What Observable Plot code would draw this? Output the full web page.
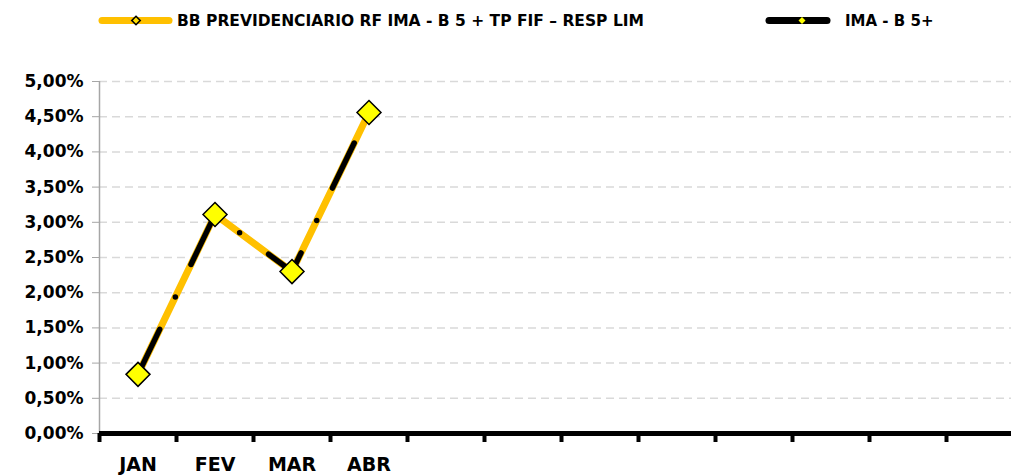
<!DOCTYPE html>
<html>
<head>
<meta charset="utf-8">
<script src="https://cdn.jsdelivr.net/npm/d3@7"></script>
<script src="https://cdn.jsdelivr.net/npm/@observablehq/plot@0.6"></script>
<style>
html, body { margin: 0; padding: 0; background: #fff; overflow: hidden; }
#wrap { position: relative; width: 1011px; height: 476px; overflow: hidden; background: #fff;
        font-family: "DejaVu Sans", sans-serif; font-weight: bold; }
#legend { position: absolute; left: 0; top: 0; }
#chart { position: absolute; left: 0; top: 40px; width: 1023px; }
#chart svg { max-width: none !important; }
</style>
</head>
<body>
<div id="wrap">
  <svg id="legend" width="1011" height="40">
    <line x1="102" y1="20.5" x2="169" y2="20.5" stroke="#FFC000" stroke-width="7" stroke-linecap="round"/>
    <path d="M136,16.3L140.2,20.5L136,24.7L131.8,20.5Z" fill="#FFE000" stroke="#000" stroke-width="1.6"/>
    <text id="lg1" x="177" y="26" font-family="DejaVu Sans" font-weight="bold" font-size="15.5" fill="#000"></text>
    <line x1="769" y1="20.5" x2="827" y2="20.5" stroke="#000" stroke-width="7" stroke-linecap="round"/>
    <path d="M802,17L805.5,20.5L802,24L798.5,20.5Z" fill="#FFFF00"/>
    <text id="lg2" x="845" y="26" font-family="DejaVu Sans" font-weight="bold" font-size="15" fill="#000"></text>
  </svg>
  <div id="chart"></div>
</div>
<script>
// ---- data ----
const monthLabels = ["JAN", "FEV", "MAR", "ABR", "", "", "", "", "", "", "", ""];
const seriesNames = ["BB PREVIDENCIARIO RF IMA - B 5 + TP FIF \u2013 RESP LIM", "IMA - B 5+"];
const fundValues = [0.84, 3.11, 2.30, 4.56];   // % per month
const benchValues = [0.84, 3.11, 2.30, 4.56];  // % per month
const yTicks = [0, 0.5, 1, 1.5, 2, 2.5, 3, 3.5, 4, 4.5, 5];

document.getElementById("lg1").textContent = seriesNames[0];
document.getElementById("lg2").textContent = seriesNames[1];

const fund = fundValues.map((v, i) => ({month: i + 0.5, value: v}));
const bench = benchValues.map((v, i) => ({month: i + 0.5, value: v}));
const pct = d => d.toFixed(2).replace(".", ",") + "%";

const chart = Plot.plot({
  width: 1023,
  height: 436,
  marginLeft: 99,
  marginRight: 0,
  marginTop: 41,
  marginBottom: 43,
  x: {domain: [0, monthLabels.length], label: null},
  y: {domain: [0, 5], label: null},
  style: {fontFamily: "DejaVu Sans", fontWeight: "bold", color: "#000", background: "transparent", maxWidth: "none"},
  marks: [
    Plot.ruleY(yTicks.filter(d => d > 0), {stroke: "#d9d9d9", strokeWidth: 1.5, strokeDasharray: "8,5"}),
    Plot.ruleX([0], {y1: 0, y2: 5, stroke: "#a6a6a6", strokeWidth: 1.5}),
    Plot.axisY({ticks: yTicks, tickFormat: pct, tickSize: 7, tickPadding: 9, stroke: "#a6a6a6",
                fill: "#000", fontSize: 17, fontWeight: "bold", label: null}),
    Plot.ruleY([0], {stroke: "#000", strokeWidth: 5}),
    Plot.axisX({ticks: d3.range(monthLabels.length + 1), tickFormat: () => "", tickSize: 9,
                stroke: "#000", strokeWidth: 4, label: null}),
    Plot.axisX({ticks: monthLabels.map((_, i) => i + 0.5), tickFormat: d => monthLabels[Math.round(d - 0.5)],
                tickSize: 0, tickPadding: 24, fontSize: 19, fontWeight: "bold", fill: "#000", label: null}),
    Plot.line(fund, {x: "month", y: "value", stroke: "#FFC000", strokeWidth: 7}),
    Plot.line(bench, {x: "month", y: "value", stroke: "#000", strokeWidth: 5.5,
                      strokeDasharray: "50,36,0,36", strokeLinecap: "round"}),
    Plot.dot(fund, {x: "month", y: "value", symbol: d3.symbolDiamond2, r: 10.8,
                    fill: "#FFFF00", stroke: "#000", strokeWidth: 1.5})
  ]
});
document.getElementById("chart").appendChild(chart);
</script>
</body>
</html>
